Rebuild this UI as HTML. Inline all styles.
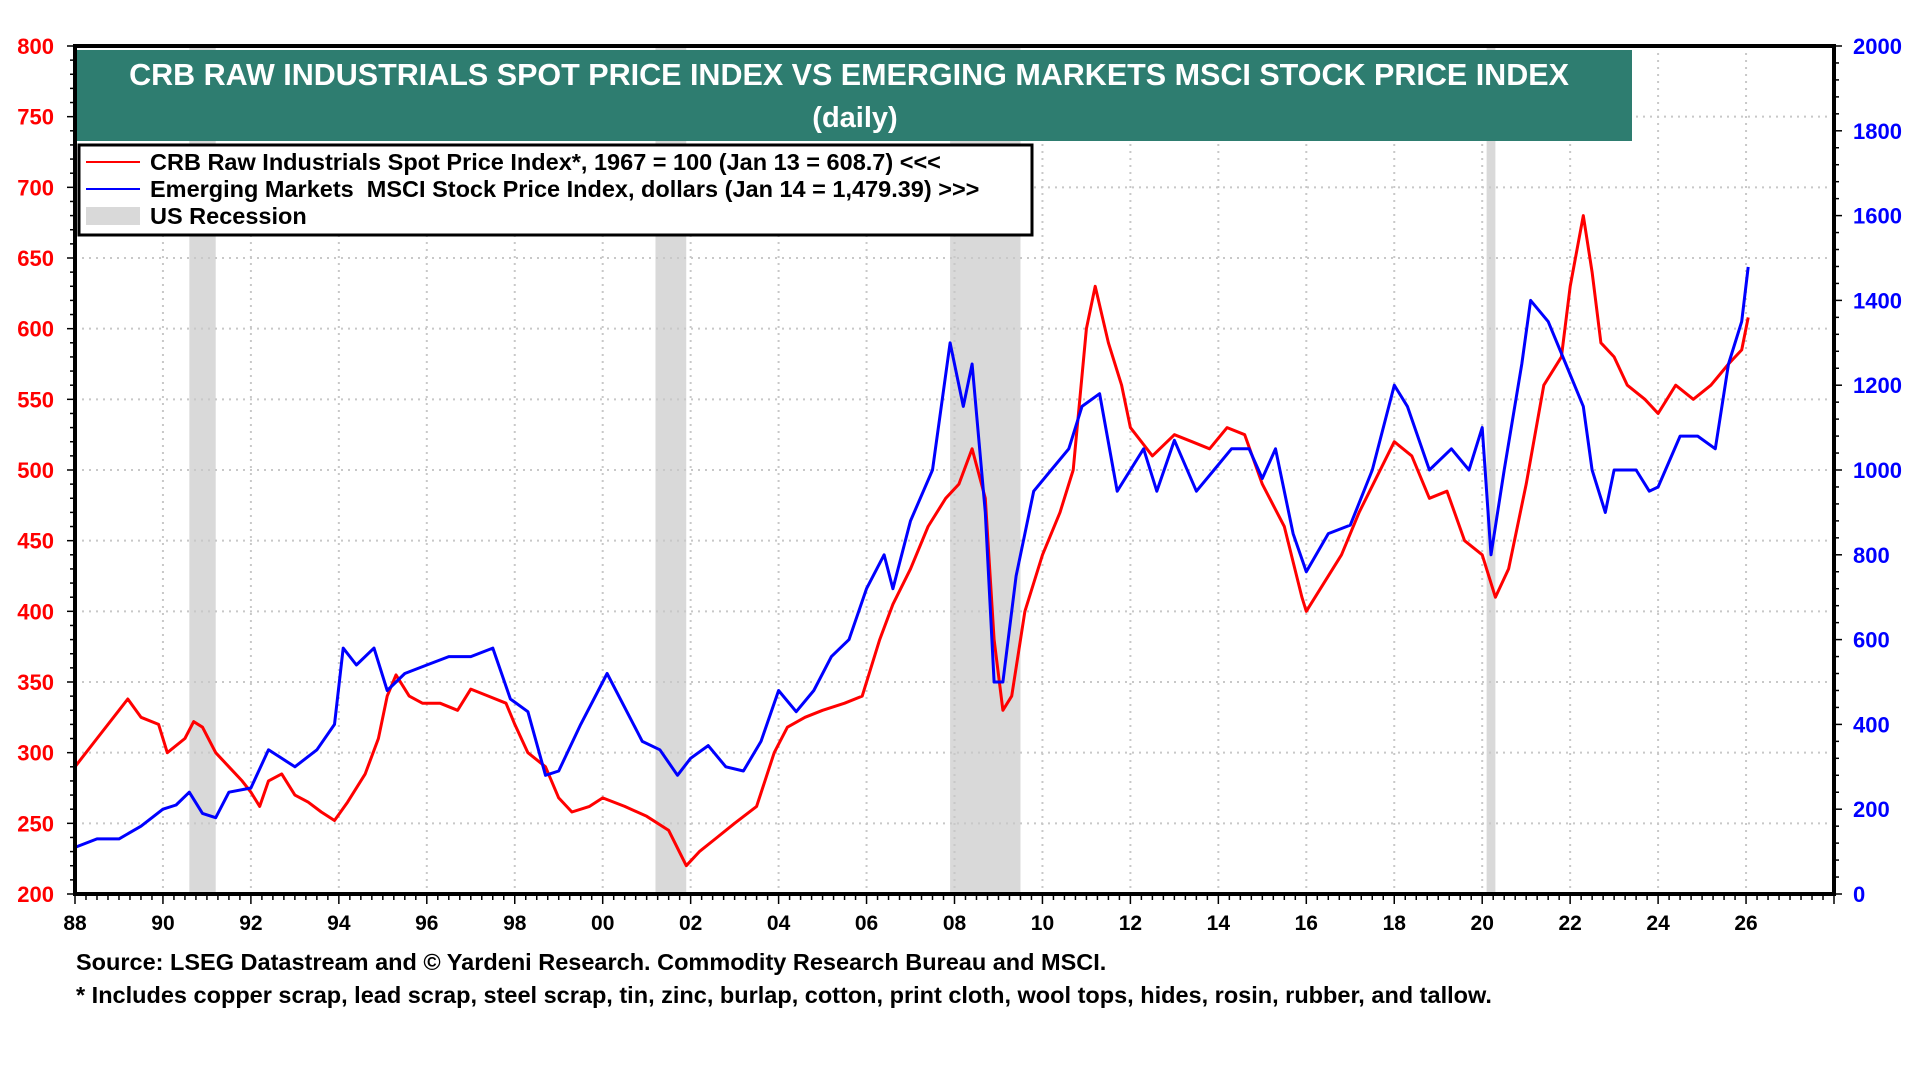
<!DOCTYPE html>
<html><head><meta charset="utf-8"><style>
html,body{margin:0;padding:0;background:#fff;width:1920px;height:1080px;overflow:hidden}
svg{display:block}
text{font-family:"Liberation Sans",Arial,sans-serif;font-weight:bold}
</style></head><body>
<svg id="chart" width="1920" height="1080"></svg>
<script>
const crbYears=[1988.0,1988.5,1989.0,1989.2,1989.5,1989.9,1990.1,1990.5,1990.7,1990.9,1991.2,1991.5,1991.8,1992.0,1992.2,1992.4,1992.7,1993.0,1993.3,1993.6,1993.9,1994.2,1994.6,1994.9,1995.1,1995.3,1995.6,1995.9,1996.3,1996.7,1997.0,1997.4,1997.8,1998.0,1998.3,1998.7,1999.0,1999.3,1999.7,2000.0,2000.5,2001.0,2001.5,2001.9,2002.2,2002.6,2003.0,2003.5,2003.9,2004.2,2004.6,2005.0,2005.5,2005.9,2006.3,2006.6,2007.0,2007.4,2007.8,2008.1,2008.4,2008.7,2008.9,2009.1,2009.3,2009.6,2010.0,2010.4,2010.7,2011.0,2011.2,2011.5,2011.8,2012.0,2012.5,2013.0,2013.4,2013.8,2014.2,2014.6,2015.0,2015.5,2015.9,2016.0,2016.4,2016.8,2017.2,2017.6,2018.0,2018.4,2018.8,2019.2,2019.6,2020.0,2020.3,2020.6,2021.0,2021.4,2021.8,2022.0,2022.3,2022.5,2022.7,2023.0,2023.3,2023.7,2024.0,2024.4,2024.8,2025.2,2025.6,2025.9,2026.05];
const crbValues=[290,310,330,338,325,320,300,310,322,318,300,290,280,272,262,280,285,270,265,258,252,265,285,310,340,355,340,335,335,330,345,340,335,320,300,290,268,258,262,268,262,255,245,220,230,240,250,262,300,318,325,330,335,340,380,405,430,460,480,490,515,480,380,330,340,400,440,470,500,600,630,590,560,530,510,525,520,515,530,525,490,460,410,400,420,440,470,495,520,510,480,485,450,440,410,430,490,560,580,630,680,640,590,580,560,550,540,560,550,560,575,585,608];
const emYears=[1988.0,1988.5,1989.0,1989.5,1990.0,1990.3,1990.6,1990.9,1991.2,1991.5,1992.0,1992.4,1992.7,1993.0,1993.5,1993.9,1994.1,1994.4,1994.8,1995.1,1995.5,1996.0,1996.5,1997.0,1997.5,1997.9,1998.3,1998.7,1999.0,1999.5,1999.9,2000.1,2000.5,2000.9,2001.3,2001.7,2002.0,2002.4,2002.8,2003.2,2003.6,2004.0,2004.4,2004.8,2005.2,2005.6,2006.0,2006.4,2006.6,2007.0,2007.5,2007.9,2008.2,2008.4,2008.7,2008.9,2009.1,2009.4,2009.8,2010.2,2010.6,2010.9,2011.3,2011.7,2012.0,2012.3,2012.6,2013.0,2013.5,2013.9,2014.3,2014.7,2015.0,2015.3,2015.7,2016.0,2016.5,2017.0,2017.5,2018.0,2018.3,2018.8,2019.3,2019.7,2020.0,2020.2,2020.5,2020.9,2021.1,2021.5,2021.9,2022.3,2022.5,2022.8,2023.0,2023.5,2023.8,2024.0,2024.5,2024.9,2025.3,2025.6,2025.9,2026.05];
const emValues=[110,130,130,160,200,210,240,190,180,240,250,340,320,300,340,400,580,540,580,480,520,540,560,560,580,460,430,280,290,400,480,520,440,360,340,280,320,350,300,290,360,480,430,480,560,600,720,800,720,880,1000,1300,1150,1250,900,500,500,750,950,1000,1050,1150,1180,950,1000,1050,950,1070,950,1000,1050,1050,980,1050,850,760,850,870,1000,1200,1150,1000,1050,1000,1100,800,1000,1250,1400,1350,1250,1150,1000,900,1000,1000,950,960,1080,1080,1050,1250,1350,1479];
const recessions=[[1990.6,1991.2],[2001.2,2001.9],[2007.9,2009.5],[2020.1,2020.3]];
const leftTicks=[200,250,300,350,400,450,500,550,600,650,700,750,800];
const rightTicks=[0,200,400,600,800,1000,1200,1400,1600,2000,1800];
const xTicks=[88,90,92,94,96,98,"00","02","04","06","08",10,12,14,16,18,20,22,24,26];

const L=75,R=1834,T=46,B=894;
const X=y=>L+(y-1988)*(R-L)/40;
const YL=v=>B-(v-200)*(B-T)/600;
const YR=v=>B-v*(B-T)/2000;
const svg=document.getElementById('chart');
const NS='http://www.w3.org/2000/svg';
function mk(tag,attrs,parent){const e=document.createElementNS(NS,tag);for(const k in attrs)e.setAttribute(k,attrs[k]);(parent||svg).appendChild(e);return e;}

recessions.forEach(r=>{
  const e=mk('rect',{x:X(r[0]),y:T,width:X(r[1])-X(r[0]),height:B-T,fill:'#d9d9d9'});
  
  
});
for(let yr=1990;yr<=2026;yr+=2){
  const e=mk('line',{x1:X(yr),x2:X(yr),y1:T,y2:B,stroke:'#c8c8c8','stroke-width':2,'stroke-dasharray':'2,5'});
  
  
}
leftTicks.forEach(v=>{
  if(v==200||v==800)return;
  const e=mk('line',{x1:L,x2:R,y1:YL(v),y2:YL(v),stroke:'#c8c8c8','stroke-width':2,'stroke-dasharray':'2,5'});
  
  
});
function path(xs,vs,yf,color,name){
  let d='';xs.forEach((x,i)=>{d+=(i?'L':'M')+X(x).toFixed(1)+','+yf(vs[i]).toFixed(1);});
  const e=mk('path',{d:d,fill:'none',stroke:color,'stroke-width':3,'stroke-linejoin':'round'});
  
  
}
path(crbYears,crbValues,YL,'#ff0000','crb-line');
path(emYears,emValues,YR,'#0000ff','em-msci-line');

const fr=mk('rect',{x:L,y:T,width:R-L,height:B-T,fill:'none',stroke:'#000','stroke-width':4});


for(let v=200;v<=800;v+=10){mk('line',{x1:L-(v%50?5:8),x2:L,y1:YL(v),y2:YL(v),stroke:'#000','stroke-width':1.5});}
for(let v=0;v<=2000;v+=40){mk('line',{x1:R,x2:R+(v%200?5:8),y1:YR(v),y2:YR(v),stroke:'#000','stroke-width':1.5});}
for(let q=1988;q<=2028.001;q+=0.25){const maj=Math.abs(q-Math.round(q))<1e-6&&Math.round(q)%2==0;mk('line',{x1:X(q),x2:X(q),y1:B,y2:B+(maj?10:6),stroke:'#000','stroke-width':1.5});}

leftTicks.forEach(v=>{
  const t=mk('text',{x:54,y:YL(v)+8,'text-anchor':'end','font-size':22,fill:'#ff0000'});t.textContent=v;
  
  
});
rightTicks.forEach(v=>{
  const t=mk('text',{x:1853,y:YR(v)+8,'font-size':22,fill:'#0000ff'});t.textContent=v;
  
  
});
xTicks.forEach((lab,i)=>{
  const t=mk('text',{x:X(1988+2*i),y:930,'text-anchor':'middle','font-size':21,fill:'#000'});t.textContent=lab;
  
  
});
</script>
<svg width="1920" height="1080" style="position:absolute;left:0;top:0">
  <rect x="77" y="50" width="1555" height="91" fill="#2e7d70"/>
  <text x="849" y="85" text-anchor="middle" font-size="30.5" fill="#fff">CRB RAW INDUSTRIALS SPOT PRICE INDEX VS EMERGING MARKETS MSCI STOCK PRICE INDEX</text>
  <text x="855" y="127" text-anchor="middle" font-size="29" fill="#fff">(daily)</text>
  <g>
    <rect x="79" y="145" width="953" height="90" fill="#fff" stroke="#000" stroke-width="3"/>
    <line x1="86" y1="162" x2="140" y2="162" stroke="#ff0000" stroke-width="2"/>
    <text x="150" y="170" font-size="23.5" fill="#000">CRB Raw Industrials Spot Price Index*, 1967 = 100 (Jan 13 = 608.7) &lt;&lt;&lt;</text>
    <line x1="86" y1="189" x2="140" y2="189" stroke="#0000ff" stroke-width="2"/>
    <text x="150" y="197" font-size="23.5" fill="#000" xml:space="preserve">Emerging Markets  MSCI Stock Price Index, dollars (Jan 14 = 1,479.39) &gt;&gt;&gt;</text>
    <rect x="86" y="207" width="54" height="18" fill="#d9d9d9"/>
    <text x="150" y="224" font-size="23.5" fill="#000">US Recession</text>
  </g>
  <text x="76" y="970" font-size="23.5" fill="#000">Source: LSEG Datastream and © Yardeni Research. Commodity Research Bureau and MSCI.</text>
  <text x="76" y="1003" font-size="23.5" fill="#000">* Includes copper scrap, lead scrap, steel scrap, tin, zinc, burlap, cotton, print cloth, wool tops, hides, rosin, rubber, and tallow.</text>
</svg>
</body></html>
